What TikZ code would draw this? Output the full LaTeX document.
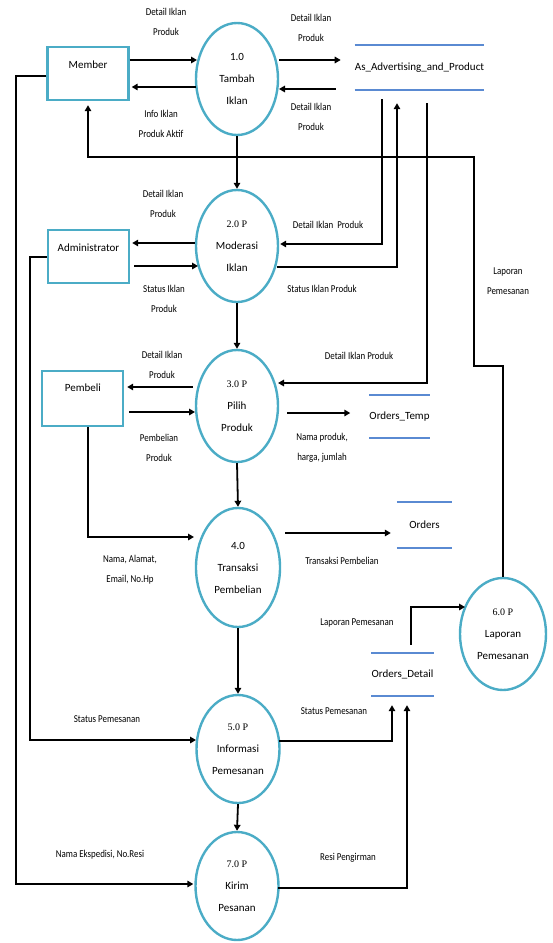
\documentclass[tikz,border=0pt]{standalone}
\usepackage{fontspec}
\setmainfont{Carlito}
\newfontfamily\flowfont[FakeStretch=0.85]{Carlito}
\newfontfamily\numfont{Liberation Serif}
\usetikzlibrary{shapes.geometric,arrows.meta,calc}
\definecolor{procteal}{HTML}{4BACC6}
\definecolor{storeblue}{HTML}{5A8AD2}
\newcommand\procno[1]{{\numfont\fontsize{10}{22}\selectfont #1}}

\begin{document}
\begin{tikzpicture}[x=1pt,y=-1pt,
  proc/.style={ellipse,draw=procteal,line width=2.4pt,minimum width=82pt,
    minimum height=112pt,inner sep=0pt,align=center,
    font=\fontsize{11}{22}\selectfont},
  entity/.style={rectangle,draw=procteal,line width=2.4pt,
    minimum width=81pt,minimum height=53pt},
  etext/.style={inner sep=0pt,font=\fontsize{11}{13}\selectfont},
  store/.style={inner sep=0pt,font=\fontsize{11}{13}\selectfont},
  storeline/.style={draw=storeblue,line width=1.8pt},
  flow/.style={draw=black,line width=1.8pt,-{Triangle[length=6pt,width=6.5pt]}},
  flowlbl/.style={align=center,inner sep=0pt,
    font=\flowfont\fontsize{10.5}{20}\selectfont},
]
\useasboundingbox (0,0) rectangle (552,943);

% ---------- external entities ----------
\node[entity] (member)  at (88,73.5) {};
\node[etext]  (memberT) at (88,65) {Member};
\node[entity] (admin)   at (88.5,256.5) {};
\node[etext]  (adminT)  at (88.5,248) {Administrator};
\node[entity,minimum height=55pt] (pembeli) at (82.5,398.5) {};
\node[etext]  (pembeliT) at (83,388) {Pembeli};

% ---------- processes ----------
\node[proc] (p1) at (237,79) {1.0\\Tambah\\Iklan};
\node[proc] (p2) at (237,246) {\procno{2.0 P}\\Moderasi\\Iklan};
\node[proc] (p3) at (237,406) {\procno{3.0 P}\\Pilih\\Produk};
\node[proc,minimum width=84pt,minimum height=119pt] (p4) at (238,567.5) {4.0\\Transaksi\\Pembelian};
\node[proc,minimum width=83pt,minimum height=108pt] (p5) at (238,749) {\procno{5.0 P}\\Informasi\\Pemesanan};
\node[proc,minimum width=86pt,minimum height=112pt] (p6) at (503,634) {\procno{6.0 P}\\Laporan\\Pemesanan};
\node[proc,minimum width=83pt,minimum height=108pt] (p7) at (237,886) {\procno{7.0 P}\\Kirim\\Pesanan};

% ---------- data stores ----------
\node[store,minimum width=127pt,minimum height=45pt] (ds1) at (419.5,67.5) {As\_Advertising\_and\_Product};
\node[store,minimum width=55pt,minimum height=43pt] (ds2) at (399.5,416.5) {Orders\_Temp};
\node[store,minimum width=55pt,minimum height=46pt] (ds3) at (424.5,525) {Orders};
\node[store,minimum width=59pt,minimum height=43pt] (ds4) at (402.5,674.5) {Orders\_Detail};
\foreach \s in {ds1,ds2,ds3,ds4}{
  \draw[storeline] (\s.north west) -- (\s.north east);
  \draw[storeline] (\s.south west) -- (\s.south east);
}

% ---------- flow labels ----------
\node[flowlbl] (l1)  at (166,22)  {Detail Iklan\\Produk};
\node[flowlbl] (l2)  at (161,124) {Info Iklan\\Produk Aktif};
\node[flowlbl] (l3)  at (311,28)  {Detail Iklan\\Produk};
\node[flowlbl] (l4)  at (311,117) {Detail Iklan\\Produk};
\node[flowlbl] (l5)  at (163,204) {Detail Iklan\\Produk};
\node[flowlbl] (l6)  at (164,299) {Status Iklan\\Produk};
\node[flowlbl] (l7)  at (328,225) {Detail Iklan~~Produk};
\node[flowlbl] (l8)  at (322,289) {Status Iklan Produk};
\node[flowlbl] (l9)  at (359,356) {Detail Iklan Produk};
\node[flowlbl] (l10) at (508,281) {Laporan\\Pemesanan};
\node[flowlbl] (l11) at (162,365) {Detail Iklan\\Produk};
\node[flowlbl] (l12) at (159,448) {Pembelian\\Produk};
\node[flowlbl] (l13) at (322,448) {Nama produk,\\harga, jumlah};
\node[flowlbl] (l14) at (130,570) {Nama, Alamat,\\Email, No.Hp};
\node[flowlbl] (l15) at (342,561) {Transaksi Pembelian};
\node[flowlbl] (l16) at (357,623) {Laporan Pemesanan};
\node[flowlbl] (l17) at (107,719) {Status Pemesanan};
\node[flowlbl] (l18) at (334,711) {Status Pemesanan};
\node[flowlbl] (l19) at (100,855) {Nama Ekspedisi, No.Resi};
\node[flowlbl] (l20) at (348,858) {Resi Pengirman};

% ---------- data flows ----------
% Member <-> 1.0
\draw[flow] ($(member.east)+(0,-13.5)$) -- ($(p1)+(-40,-19)$);
\draw[flow] ($(p1)+(-41,8)$) -- ($(member.east)+(2,13.5)$);
% 1.0 <-> As_Advertising_and_Product
\draw[flow] ($(p1)+(42,-19)$) -- ($(ds1.west)+(-14,-7.5)$);
\draw[flow] ($(ds1.west)+(-19,21.5)$) -- ($(p1)+(42,10)$);
% main chain of processes
\draw[flow] (p1.south) -- (p2.north);
\draw[flow] (p2.south) -- (p3.north);
\draw[flow] (p3.south) -- (p4.north);
\draw[flow] (p4.south) -- (p5.north);
\draw[flow] (p5.south) -- (p7.north);
% report back to Member
\draw[flow] (p6.north) |- (474,366) -- (474,157) -| ($(member.south)+(0,4)$);
% Member -> 7.0
\draw[flow] ($(member.west)+(0,2.5)$) -| (16,884) -- ($(p7.west)+(-1,-2)$);
% Administrator <-> 2.0
\draw[flow] ($(p2.west)+(0,-3)$) -- ($(admin.east)+(2,-13.5)$);
\draw[flow] ($(admin.east)+(4,9.5)$) -- ($(p2)+(-39,20)$);
% Administrator -> 5.0
\draw[flow] ($(admin.west)+(0,0.5)$) -| (30,740) -- ($(p5)+(-42,-9)$);
% store <-> 2.0, store -> 3.0
\draw[flow] ($(ds1.south)+(-37.5,9)$) |- ($(p2.east)+(1,-2)$);
\draw[flow] ($(p2)+(40,21)$) -| ($(ds1.south)+(-22.5,13)$);
\draw[flow] ($(ds1.south)+(7.5,13)$) |- ($(p3)+(41,-23)$);
% Pembeli <-> 3.0
\draw[flow] ($(p3)+(-44,-19)$) -- ($(pembeli.east)+(3,-11.5)$);
\draw[flow] ($(pembeli.east)+(5,13.5)$) -- ($(p3)+(-42,6)$);
% 3.0 -> Orders_Temp
\draw[flow] ($(p3)+(50,7)$) -- ($(ds2.west)+(-19,-3.5)$);
% Pembeli -> 4.0
\draw[flow] ($(pembeli.south)+(5.5,0)$) |- ($(p4)+(-44,-30.5)$);
% 4.0 -> Orders
\draw[flow] ($(p4)+(47,-34.5)$) -- ($(ds3.west)+(-6,8)$);
% Orders_Detail -> 6.0
\draw[flow] ($(ds4.north)+(8.5,-8)$) |- ($(p6)+(-38,-27)$);
% 5.0, 7.0 -> Orders_Detail
\draw[flow] ($(p5)+(41,-8)$) -| ($(ds4.south)+(-10.5,9)$);
\draw[flow] ($(p7)+(41,2)$) -| ($(ds4.south)+(4.5,9)$);
\end{tikzpicture}
\end{document}
